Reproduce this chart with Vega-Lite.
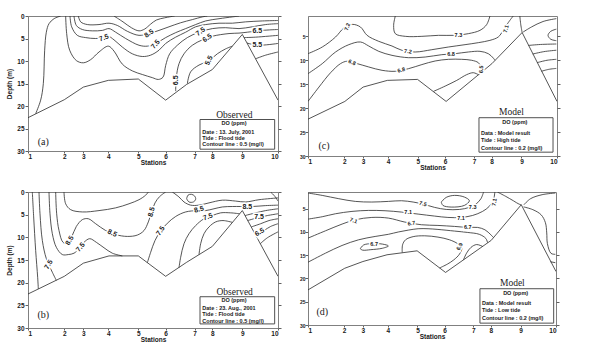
{
"$schema":"https://vega.github.io/schema/vega-lite/v6.json",
"background":"white",
"padding":{"left":6,"top":12,"right":0,"bottom":0},
"config":{
 "view":{"stroke":"#808080","strokeWidth":1},
 "axis":{"grid":false,"domainColor":"#808080","tickColor":"#606060","tickSize":3,"labelFont":"Liberation Sans","labelFontSize":6.5,"labelFontWeight":"bold","labelColor":"#1a1a1a","labelPadding":1,"titleFont":"Liberation Sans","titleFontSize":6.5,"titleFontWeight":"bold","titleColor":"#1a1a1a"},
 "text":{"font":"Liberation Sans"}
},
"datasets":{
"lines":[
{"p":"a","c":"a1","i":0,"x":23,"d":21.7},{"p":"a","c":"a1","i":1,"x":38,"d":18.7},{"p":"a","c":"a1","i":2,"x":46,"d":15.0},{"p":"a","c":"a1","i":3,"x":50,"d":7.6},{"p":"a","c":"a1","i":4,"x":55,"d":3.6},{"p":"a","c":"a1","i":5,"x":63,"d":1.7},{"p":"a","c":"a1","i":6,"x":78,"d":0.6},{"p":"a","c":"a1","i":7,"x":98,"d":0},
{"p":"a","c":"a2","i":0,"x":113,"d":0},{"p":"a","c":"a2","i":1,"x":116,"d":3.9},{"p":"a","c":"a2","i":2,"x":125,"d":7.6},{"p":"a","c":"a2","i":3,"x":145,"d":9.9},{"p":"a","c":"a2","i":4,"x":166,"d":10.4},{"p":"a","c":"a2","i":5,"x":188,"d":9.7},{"p":"a","c":"a2","i":6,"x":213,"d":8.0},{"p":"a","c":"a2","i":7,"x":241,"d":6.7},{"p":"a","c":"a2","i":8,"x":258,"d":7.8},{"p":"a","c":"a2","i":9,"x":283,"d":10.7},{"p":"a","c":"a2","i":10,"x":313,"d":12.2},{"p":"a","c":"a2","i":11,"x":343,"d":13.0},{"p":"a","c":"a2","i":12,"x":373,"d":13.7},{"p":"a","c":"a2","i":13,"x":391,"d":14.1},{"p":"a","c":"a2","i":14,"x":405,"d":13.6},{"p":"a","c":"a2","i":15,"x":413,"d":11.0},{"p":"a","c":"a2","i":16,"x":425,"d":8.4},{"p":"a","c":"a2","i":17,"x":448,"d":6.5},{"p":"a","c":"a2","i":18,"x":478,"d":4.8},{"p":"a","c":"a2","i":19,"x":513,"d":3.6},{"p":"a","c":"a2","i":20,"x":553,"d":2.8},{"p":"a","c":"a2","i":21,"x":593,"d":2.6},{"p":"a","c":"a2","i":22,"x":633,"d":2.8},{"p":"a","c":"a2","i":23,"x":673,"d":2.4},{"p":"a","c":"a2","i":24,"x":713,"d":1.9},{"p":"a","c":"a2","i":25,"x":750,"d":1.7},
{"p":"a","c":"a3","i":0,"x":126,"d":0},{"p":"a","c":"a3","i":1,"x":131,"d":2.4},{"p":"a","c":"a3","i":2,"x":148,"d":4.3},{"p":"a","c":"a3","i":3,"x":173,"d":4.8},{"p":"a","c":"a3","i":4,"x":203,"d":5.0},{"p":"a","c":"a3","i":5,"x":228,"d":4.8},{"p":"a","c":"a3","i":6,"x":241,"d":4.5},{"p":"a","c":"a3","i":7,"x":258,"d":5.3},{"p":"a","c":"a3","i":8,"x":283,"d":6.9},{"p":"a","c":"a3","i":9,"x":313,"d":8.4},{"p":"a","c":"a3","i":10,"x":343,"d":9.0},{"p":"a","c":"a3","i":11,"x":368,"d":8.7},{"p":"a","c":"a3","i":12,"x":393,"d":7.6},{"p":"a","c":"a3","i":13,"x":413,"d":6.1},{"p":"a","c":"a3","i":14,"x":443,"d":4.7},{"p":"a","c":"a3","i":15,"x":473,"d":3.6},{"p":"a","c":"a3","i":16,"x":503,"d":2.4},{"p":"a","c":"a3","i":17,"x":533,"d":1.9},{"p":"a","c":"a3","i":18,"x":573,"d":1.6},{"p":"a","c":"a3","i":19,"x":613,"d":1.6},{"p":"a","c":"a3","i":20,"x":653,"d":1.3},{"p":"a","c":"a3","i":21,"x":703,"d":1.1},{"p":"a","c":"a3","i":22,"x":750,"d":1.0},
{"p":"a","c":"a4","i":0,"x":138,"d":0},{"p":"a","c":"a4","i":1,"x":145,"d":2.1},{"p":"a","c":"a4","i":2,"x":163,"d":3.0},{"p":"a","c":"a4","i":3,"x":193,"d":3.3},{"p":"a","c":"a4","i":4,"x":223,"d":3.2},{"p":"a","c":"a4","i":5,"x":243,"d":2.8},{"p":"a","c":"a4","i":6,"x":263,"d":3.6},{"p":"a","c":"a4","i":7,"x":293,"d":5.0},{"p":"a","c":"a4","i":8,"x":333,"d":6.5},{"p":"a","c":"a4","i":9,"x":358,"d":6.7},{"p":"a","c":"a4","i":10,"x":383,"d":6.1},{"p":"a","c":"a4","i":11,"x":413,"d":4.8},{"p":"a","c":"a4","i":12,"x":443,"d":3.7},{"p":"a","c":"a4","i":13,"x":473,"d":2.8},{"p":"a","c":"a4","i":14,"x":503,"d":1.9},{"p":"a","c":"a4","i":15,"x":533,"d":1.1},{"p":"a","c":"a4","i":16,"x":573,"d":0.6},{"p":"a","c":"a4","i":17,"x":613,"d":0.2},{"p":"a","c":"a4","i":18,"x":633,"d":0},
{"p":"a","c":"a5","i":0,"x":151,"d":0},{"p":"a","c":"a5","i":1,"x":158,"d":1.3},{"p":"a","c":"a5","i":2,"x":178,"d":1.9},{"p":"a","c":"a5","i":3,"x":213,"d":1.9},{"p":"a","c":"a5","i":4,"x":243,"d":1.6},{"p":"a","c":"a5","i":5,"x":268,"d":2.1},{"p":"a","c":"a5","i":6,"x":298,"d":3.4},{"p":"a","c":"a5","i":7,"x":333,"d":4.3},{"p":"a","c":"a5","i":8,"x":363,"d":3.9},{"p":"a","c":"a5","i":9,"x":393,"d":3.2},{"p":"a","c":"a5","i":10,"x":423,"d":2.4},{"p":"a","c":"a5","i":11,"x":458,"d":1.5},{"p":"a","c":"a5","i":12,"x":493,"d":0.8},{"p":"a","c":"a5","i":13,"x":523,"d":0.2},{"p":"a","c":"a5","i":14,"x":538,"d":0},
{"p":"a","c":"a6","i":0,"x":258,"d":0},{"p":"a","c":"a6","i":1,"x":285,"d":1.3},{"p":"a","c":"a6","i":2,"x":310,"d":2.6},{"p":"a","c":"a6","i":3,"x":333,"d":3.3},{"p":"a","c":"a6","i":4,"x":350,"d":2.9},{"p":"a","c":"a6","i":5,"x":368,"d":1.8},{"p":"a","c":"a6","i":6,"x":385,"d":0.9},{"p":"a","c":"a6","i":7,"x":410,"d":0.4},{"p":"a","c":"a6","i":8,"x":440,"d":0},
{"p":"a","c":"a7","i":0,"x":443,"d":16.7},{"p":"a","c":"a7","i":1,"x":445,"d":13.6},{"p":"a","c":"a7","i":2,"x":453,"d":10.6},{"p":"a","c":"a7","i":3,"x":468,"d":8.4},{"p":"a","c":"a7","i":4,"x":493,"d":6.5},{"p":"a","c":"a7","i":5,"x":523,"d":5.3},{"p":"a","c":"a7","i":6,"x":553,"d":4.5},{"p":"a","c":"a7","i":7,"x":603,"d":3.9},{"p":"a","c":"a7","i":8,"x":633,"d":3.8},{"p":"a","c":"a7","i":9,"x":658,"d":3.6},{"p":"a","c":"a7","i":10,"x":703,"d":3.2},{"p":"a","c":"a7","i":11,"x":750,"d":3.0},
{"p":"a","c":"a8","i":0,"x":478,"d":15.0},{"p":"a","c":"a8","i":1,"x":488,"d":12.4},{"p":"a","c":"a8","i":2,"x":513,"d":10.9},{"p":"a","c":"a8","i":3,"x":543,"d":9.9},{"p":"a","c":"a8","i":4,"x":568,"d":8.4},{"p":"a","c":"a8","i":5,"x":593,"d":7.3},{"p":"a","c":"a8","i":6,"x":613,"d":6.7},
{"p":"a","c":"a9","i":0,"x":648,"d":4.8},{"p":"a","c":"a9","i":1,"x":683,"d":4.7},{"p":"a","c":"a9","i":2,"x":750,"d":4.3},
{"p":"a","c":"a10","i":0,"x":657,"d":6.0},{"p":"a","c":"a10","i":1,"x":688,"d":6.5},{"p":"a","c":"a10","i":2,"x":750,"d":6.1},
{"p":"a","c":"a11","i":0,"x":683,"d":9.5},{"p":"a","c":"a11","i":1,"x":713,"d":8.7},{"p":"a","c":"a11","i":2,"x":750,"d":8.0},

{"p":"b","c":"b1","i":0,"x":13,"d":0},{"p":"b","c":"b1","i":1,"x":17,"d":5.5},{"p":"b","c":"b1","i":2,"x":23,"d":12.9},{"p":"b","c":"b1","i":3,"x":29,"d":18.8},{"p":"b","c":"b1","i":4,"x":31,"d":21.4},
{"p":"b","c":"b2","i":0,"x":33,"d":0},{"p":"b","c":"b2","i":1,"x":36,"d":4.8},{"p":"b","c":"b2","i":2,"x":43,"d":10.7},{"p":"b","c":"b2","i":3,"x":55,"d":14.7},{"p":"b","c":"b2","i":4,"x":73,"d":17.7},{"p":"b","c":"b2","i":5,"x":85,"d":19.5},
{"p":"b","c":"b3","i":0,"x":63,"d":0},{"p":"b","c":"b3","i":1,"x":66,"d":4.8},{"p":"b","c":"b3","i":2,"x":73,"d":9.2},{"p":"b","c":"b3","i":3,"x":85,"d":12.2},{"p":"b","c":"b3","i":4,"x":103,"d":13.8},{"p":"b","c":"b3","i":5,"x":121,"d":13.8},{"p":"b","c":"b3","i":6,"x":138,"d":13.5},{"p":"b","c":"b3","i":7,"x":153,"d":12.5},{"p":"b","c":"b3","i":8,"x":168,"d":11.1},{"p":"b","c":"b3","i":9,"x":185,"d":10.3},{"p":"b","c":"b3","i":10,"x":205,"d":11.1},{"p":"b","c":"b3","i":11,"x":228,"d":12.3},{"p":"b","c":"b3","i":12,"x":253,"d":13.5},{"p":"b","c":"b3","i":13,"x":283,"d":14.1},
{"p":"b","c":"b4","i":0,"x":83,"d":0},{"p":"b","c":"b4","i":1,"x":86,"d":4.8},{"p":"b","c":"b4","i":2,"x":93,"d":8.5},{"p":"b","c":"b4","i":3,"x":105,"d":11.1},{"p":"b","c":"b4","i":4,"x":118,"d":11.4},{"p":"b","c":"b4","i":5,"x":131,"d":9.9},{"p":"b","c":"b4","i":6,"x":145,"d":7.6},{"p":"b","c":"b4","i":7,"x":163,"d":6.1},{"p":"b","c":"b4","i":8,"x":181,"d":5.9},{"p":"b","c":"b4","i":9,"x":203,"d":7.0},{"p":"b","c":"b4","i":10,"x":233,"d":8.5},{"p":"b","c":"b4","i":11,"x":263,"d":9.4},{"p":"b","c":"b4","i":12,"x":298,"d":9.8},{"p":"b","c":"b4","i":13,"x":328,"d":9.5},{"p":"b","c":"b4","i":14,"x":348,"d":8.5},{"p":"b","c":"b4","i":15,"x":361,"d":6.6},{"p":"b","c":"b4","i":16,"x":371,"d":4.4},{"p":"b","c":"b4","i":17,"x":381,"d":2.4},{"p":"b","c":"b4","i":18,"x":395,"d":1.0},{"p":"b","c":"b4","i":19,"x":413,"d":0},
{"p":"b","c":"b5","i":0,"x":108,"d":0},{"p":"b","c":"b5","i":1,"x":113,"d":2.6},{"p":"b","c":"b5","i":2,"x":128,"d":3.9},{"p":"b","c":"b5","i":3,"x":163,"d":4.4},{"p":"b","c":"b5","i":4,"x":213,"d":4.1},{"p":"b","c":"b5","i":5,"x":263,"d":3.5},{"p":"b","c":"b5","i":6,"x":303,"d":2.6},{"p":"b","c":"b5","i":7,"x":333,"d":1.7},{"p":"b","c":"b5","i":8,"x":353,"d":0.7},{"p":"b","c":"b5","i":9,"x":361,"d":0},
{"p":"b","c":"b6","i":0,"x":358,"d":15.6},{"p":"b","c":"b6","i":1,"x":368,"d":13.3},{"p":"b","c":"b6","i":2,"x":381,"d":10.7},{"p":"b","c":"b6","i":3,"x":398,"d":8.6},{"p":"b","c":"b6","i":4,"x":418,"d":6.9},{"p":"b","c":"b6","i":5,"x":443,"d":5.4},{"p":"b","c":"b6","i":6,"x":473,"d":4.4},{"p":"b","c":"b6","i":7,"x":508,"d":4.1},{"p":"b","c":"b6","i":8,"x":533,"d":4.1},{"p":"b","c":"b6","i":9,"x":558,"d":3.7},{"p":"b","c":"b6","i":10,"x":583,"d":3.3},{"p":"b","c":"b6","i":11,"x":613,"d":3.2},{"p":"b","c":"b6","i":12,"x":638,"d":3.2},{"p":"b","c":"b6","i":13,"x":673,"d":3.2},{"p":"b","c":"b6","i":14,"x":713,"d":3.0},{"p":"b","c":"b6","i":15,"x":750,"d":2.9},
{"p":"b","c":"b7","i":0,"x":453,"d":16.7},{"p":"b","c":"b7","i":1,"x":458,"d":14.4},{"p":"b","c":"b7","i":2,"x":468,"d":11.4},{"p":"b","c":"b7","i":3,"x":483,"d":9.2},{"p":"b","c":"b7","i":4,"x":503,"d":7.4},{"p":"b","c":"b7","i":5,"x":528,"d":5.9},{"p":"b","c":"b7","i":6,"x":553,"d":5.2},{"p":"b","c":"b7","i":7,"x":578,"d":4.6},{"p":"b","c":"b7","i":8,"x":608,"d":4.6},{"p":"b","c":"b7","i":9,"x":635,"d":4.8},
{"p":"b","c":"b8","i":0,"x":513,"d":13.8},{"p":"b","c":"b8","i":1,"x":518,"d":11.4},{"p":"b","c":"b8","i":2,"x":528,"d":9.2},{"p":"b","c":"b8","i":3,"x":543,"d":7.7},{"p":"b","c":"b8","i":4,"x":563,"d":6.6},{"p":"b","c":"b8","i":5,"x":585,"d":6.3},{"p":"b","c":"b8","i":6,"x":613,"d":6.7},
{"p":"b","c":"b9","i":0,"x":433,"d":0},{"p":"b","c":"b9","i":1,"x":453,"d":1.1},{"p":"b","c":"b9","i":2,"x":468,"d":2.2},{"p":"b","c":"b9","i":3,"x":488,"d":2.9},{"p":"b","c":"b9","i":4,"x":513,"d":2.9},{"p":"b","c":"b9","i":5,"x":543,"d":2.4},{"p":"b","c":"b9","i":6,"x":583,"d":1.8},{"p":"b","c":"b9","i":7,"x":623,"d":2.0},{"p":"b","c":"b9","i":8,"x":653,"d":2.2},{"p":"b","c":"b9","i":9,"x":693,"d":1.7},{"p":"b","c":"b9","i":10,"x":750,"d":1.3},
{"p":"b","c":"b10","i":0,"x":476,"d":1.5},{"p":"b","c":"b10","i":1,"x":480,"d":0.7},{"p":"b","c":"b10","i":2,"x":490,"d":0.5},{"p":"b","c":"b10","i":3,"x":500,"d":0.9},{"p":"b","c":"b10","i":4,"x":503,"d":1.6},{"p":"b","c":"b10","i":5,"x":496,"d":2.2},{"p":"b","c":"b10","i":6,"x":483,"d":2.2},{"p":"b","c":"b10","i":7,"x":476,"d":1.5},
{"p":"b","c":"b11","i":0,"x":651,"d":5.2},{"p":"b","c":"b11","i":1,"x":683,"d":4.6},{"p":"b","c":"b11","i":2,"x":713,"d":4.1},{"p":"b","c":"b11","i":3,"x":750,"d":3.7},
{"p":"b","c":"b12","i":0,"x":659,"d":6.3},{"p":"b","c":"b12","i":1,"x":688,"d":5.7},{"p":"b","c":"b12","i":2,"x":718,"d":5.2},{"p":"b","c":"b12","i":3,"x":750,"d":4.8},
{"p":"b","c":"b13","i":0,"x":670,"d":7.7},{"p":"b","c":"b13","i":1,"x":698,"d":7.0},{"p":"b","c":"b13","i":2,"x":723,"d":6.3},{"p":"b","c":"b13","i":3,"x":750,"d":5.9},
{"p":"b","c":"b14","i":0,"x":683,"d":9.6},{"p":"b","c":"b14","i":1,"x":708,"d":8.5},{"p":"b","c":"b14","i":2,"x":728,"d":7.6},{"p":"b","c":"b14","i":3,"x":750,"d":7.0},
{"p":"b","c":"b15","i":0,"x":697,"d":11.4},{"p":"b","c":"b15","i":1,"x":718,"d":10.1},{"p":"b","c":"b15","i":2,"x":750,"d":8.8},
{"p":"b","c":"b16","i":0,"x":728,"d":0},{"p":"b","c":"b16","i":1,"x":741,"d":1.0},{"p":"b","c":"b16","i":2,"x":750,"d":2.0},

{"p":"c","c":"c1","i":0,"x":0,"d":8.62},{"p":"c","c":"c1","i":1,"x":43,"d":7.23},{"p":"c","c":"c1","i":2,"x":83,"d":5.14},{"p":"c","c":"c1","i":3,"x":108,"d":3.26},{"p":"c","c":"c1","i":4,"x":133,"d":2.5},{"p":"c","c":"c1","i":5,"x":158,"d":3.05},{"p":"c","c":"c1","i":6,"x":178,"d":4.79},{"p":"c","c":"c1","i":7,"x":213,"d":6.04},{"p":"c","c":"c1","i":8,"x":253,"d":7.02},{"p":"c","c":"c1","i":9,"x":283,"d":7.92},{"p":"c","c":"c1","i":10,"x":323,"d":8.27},{"p":"c","c":"c1","i":11,"x":373,"d":7.79},{"p":"c","c":"c1","i":12,"x":423,"d":7.23},{"p":"c","c":"c1","i":13,"x":473,"d":6.74},{"p":"c","c":"c1","i":14,"x":513,"d":6.32},{"p":"c","c":"c1","i":15,"x":548,"d":5.84},{"p":"c","c":"c1","i":16,"x":573,"d":5.14},{"p":"c","c":"c1","i":17,"x":588,"d":3.75},{"p":"c","c":"c1","i":18,"x":603,"d":2.15},{"p":"c","c":"c1","i":19,"x":618,"d":0.75},
{"p":"c","c":"c2","i":0,"x":0,"d":12.8},{"p":"c","c":"c2","i":1,"x":43,"d":10.7},{"p":"c","c":"c2","i":2,"x":83,"d":8.27},{"p":"c","c":"c2","i":3,"x":123,"d":6.74},{"p":"c","c":"c2","i":4,"x":158,"d":6.18},{"p":"c","c":"c2","i":5,"x":183,"d":7.02},{"p":"c","c":"c2","i":6,"x":213,"d":8.13},{"p":"c","c":"c2","i":7,"x":253,"d":8.97},{"p":"c","c":"c2","i":8,"x":303,"d":9.46},{"p":"c","c":"c2","i":9,"x":353,"d":9.32},{"p":"c","c":"c2","i":10,"x":403,"d":8.83},{"p":"c","c":"c2","i":11,"x":443,"d":8.62},{"p":"c","c":"c2","i":12,"x":483,"d":8.27},{"p":"c","c":"c2","i":13,"x":518,"d":8.13},{"p":"c","c":"c2","i":14,"x":543,"d":8.62},{"p":"c","c":"c2","i":15,"x":558,"d":9.53},{"p":"c","c":"c2","i":16,"x":563,"d":10.0},
{"p":"c","c":"c3","i":0,"x":0,"d":18.6},{"p":"c","c":"c3","i":1,"x":33,"d":15.6},{"p":"c","c":"c3","i":2,"x":68,"d":12.6},{"p":"c","c":"c3","i":3,"x":98,"d":10.7},{"p":"c","c":"c3","i":4,"x":118,"d":10.2},{"p":"c","c":"c3","i":5,"x":148,"d":10.7},{"p":"c","c":"c3","i":6,"x":183,"d":11.4},{"p":"c","c":"c3","i":7,"x":223,"d":12.1},{"p":"c","c":"c3","i":8,"x":263,"d":12.3},{"p":"c","c":"c3","i":9,"x":303,"d":11.75},{"p":"c","c":"c3","i":10,"x":343,"d":10.9},{"p":"c","c":"c3","i":11,"x":383,"d":10.15},{"p":"c","c":"c3","i":12,"x":423,"d":9.8},{"p":"c","c":"c3","i":13,"x":463,"d":9.8},{"p":"c","c":"c3","i":14,"x":493,"d":10.0},{"p":"c","c":"c3","i":15,"x":513,"d":10.5},{"p":"c","c":"c3","i":16,"x":521,"d":11.4},{"p":"c","c":"c3","i":17,"x":521,"d":12.6},
{"p":"c","c":"c4","i":0,"x":263,"d":0.75},{"p":"c","c":"c4","i":1,"x":258,"d":2.7},{"p":"c","c":"c4","i":2,"x":263,"d":4.44},{"p":"c","c":"c4","i":3,"x":293,"d":5.0},{"p":"c","c":"c4","i":4,"x":343,"d":5.0},{"p":"c","c":"c4","i":5,"x":393,"d":4.79},{"p":"c","c":"c4","i":6,"x":443,"d":4.79},{"p":"c","c":"c4","i":7,"x":483,"d":4.44},{"p":"c","c":"c4","i":8,"x":518,"d":3.75},{"p":"c","c":"c4","i":9,"x":538,"d":2.56},{"p":"c","c":"c4","i":10,"x":548,"d":0.75},
{"p":"c","c":"c5","i":0,"x":378,"d":16.5},{"p":"c","c":"c5","i":1,"x":413,"d":15.4},{"p":"c","c":"c5","i":2,"x":448,"d":14.2},{"p":"c","c":"c5","i":3,"x":478,"d":13.0},{"p":"c","c":"c5","i":4,"x":498,"d":12.6},{"p":"c","c":"c5","i":5,"x":513,"d":13.0},
{"p":"c","c":"c6","i":0,"x":638,"d":0.75},{"p":"c","c":"c6","i":1,"x":641,"d":2.6},{"p":"c","c":"c6","i":2,"x":645,"d":4.2},
{"p":"c","c":"c7","i":0,"x":648,"d":4.1},{"p":"c","c":"c7","i":1,"x":673,"d":3.05},{"p":"c","c":"c7","i":2,"x":708,"d":1.9},{"p":"c","c":"c7","i":3,"x":748,"d":1.3},
{"p":"c","c":"c9","i":0,"x":748,"d":3.5},{"p":"c","c":"c9","i":1,"x":731,"d":3.96},{"p":"c","c":"c9","i":2,"x":723,"d":4.79},{"p":"c","c":"c9","i":3,"x":731,"d":5.6},{"p":"c","c":"c9","i":4,"x":748,"d":5.9},
{"p":"c","c":"c10","i":0,"x":664,"d":6.9},{"p":"c","c":"c10","i":1,"x":700,"d":6.7},{"p":"c","c":"c10","i":2,"x":748,"d":6.6},
{"p":"c","c":"c11","i":0,"x":677,"d":8.7},{"p":"c","c":"c11","i":1,"x":710,"d":8.2},{"p":"c","c":"c11","i":2,"x":748,"d":7.9},
{"p":"c","c":"c12","i":0,"x":690,"d":10.5},{"p":"c","c":"c12","i":1,"x":720,"d":10.0},{"p":"c","c":"c12","i":2,"x":748,"d":9.8},
{"p":"c","c":"c13","i":0,"x":703,"d":12.3},{"p":"c","c":"c13","i":1,"x":725,"d":11.9},{"p":"c","c":"c13","i":2,"x":748,"d":11.7},

{"p":"d","c":"d1","i":0,"x":0,"d":1.62},{"p":"d","c":"d1","i":1,"x":43,"d":2.13},{"p":"d","c":"d1","i":2,"x":93,"d":2.84},{"p":"d","c":"d1","i":3,"x":143,"d":3.42},{"p":"d","c":"d1","i":4,"x":193,"d":3.56},{"p":"d","c":"d1","i":5,"x":243,"d":3.42},{"p":"d","c":"d1","i":6,"x":283,"d":3.28},{"p":"d","c":"d1","i":7,"x":318,"d":3.56},{"p":"d","c":"d1","i":8,"x":348,"d":4.0},{"p":"d","c":"d1","i":9,"x":383,"d":4.71},{"p":"d","c":"d1","i":10,"x":418,"d":5.15},{"p":"d","c":"d1","i":11,"x":458,"d":5.15},{"p":"d","c":"d1","i":12,"x":488,"d":4.71},{"p":"d","c":"d1","i":13,"x":508,"d":4.0},{"p":"d","c":"d1","i":14,"x":523,"d":2.84},{"p":"d","c":"d1","i":15,"x":531,"d":1.41},
{"p":"d","c":"d2","i":0,"x":403,"d":3.56},{"p":"d","c":"d2","i":1,"x":418,"d":2.56},{"p":"d","c":"d2","i":2,"x":443,"d":2.13},{"p":"d","c":"d2","i":3,"x":473,"d":2.49},{"p":"d","c":"d2","i":4,"x":488,"d":3.28},{"p":"d","c":"d2","i":5,"x":473,"d":4.28},{"p":"d","c":"d2","i":6,"x":433,"d":4.64},{"p":"d","c":"d2","i":7,"x":408,"d":4.28},{"p":"d","c":"d2","i":8,"x":403,"d":3.56},
{"p":"d","c":"d3","i":0,"x":0,"d":7.23},{"p":"d","c":"d3","i":1,"x":43,"d":6.72},{"p":"d","c":"d3","i":2,"x":83,"d":6.08},{"p":"d","c":"d3","i":3,"x":133,"d":5.57},{"p":"d","c":"d3","i":4,"x":183,"d":5.36},{"p":"d","c":"d3","i":5,"x":233,"d":5.43},{"p":"d","c":"d3","i":6,"x":283,"d":5.72},{"p":"d","c":"d3","i":7,"x":333,"d":6.15},{"p":"d","c":"d3","i":8,"x":383,"d":6.58},{"p":"d","c":"d3","i":9,"x":423,"d":6.87},{"p":"d","c":"d3","i":10,"x":463,"d":6.87},{"p":"d","c":"d3","i":11,"x":498,"d":6.44},{"p":"d","c":"d3","i":12,"x":528,"d":5.57},{"p":"d","c":"d3","i":13,"x":548,"d":4.5},{"p":"d","c":"d3","i":14,"x":561,"d":3.06},{"p":"d","c":"d3","i":15,"x":565,"d":1.41},
{"p":"d","c":"d4","i":0,"x":0,"d":11.32},{"p":"d","c":"d4","i":1,"x":53,"d":9.74},{"p":"d","c":"d4","i":2,"x":103,"d":8.3},{"p":"d","c":"d4","i":3,"x":143,"d":7.37},{"p":"d","c":"d4","i":4,"x":193,"d":6.87},{"p":"d","c":"d4","i":5,"x":243,"d":7.01},{"p":"d","c":"d4","i":6,"x":293,"d":7.87},{"p":"d","c":"d4","i":7,"x":343,"d":8.44},{"p":"d","c":"d4","i":8,"x":393,"d":8.59},{"p":"d","c":"d4","i":9,"x":443,"d":8.8},{"p":"d","c":"d4","i":10,"x":483,"d":9.02},{"p":"d","c":"d4","i":11,"x":513,"d":9.02},{"p":"d","c":"d4","i":12,"x":535,"d":9.52},{"p":"d","c":"d4","i":13,"x":553,"d":10.6},{"p":"d","c":"d4","i":14,"x":561,"d":11.2},
{"p":"d","c":"d5","i":0,"x":0,"d":16.5},{"p":"d","c":"d5","i":1,"x":53,"d":14.55},{"p":"d","c":"d5","i":2,"x":103,"d":12.9},{"p":"d","c":"d5","i":3,"x":153,"d":11.68},{"p":"d","c":"d5","i":4,"x":203,"d":10.96},{"p":"d","c":"d5","i":5,"x":243,"d":10.5},{"p":"d","c":"d5","i":6,"x":273,"d":10.0},{"p":"d","c":"d5","i":7,"x":303,"d":9.6},{"p":"d","c":"d5","i":8,"x":333,"d":9.3},{"p":"d","c":"d5","i":9,"x":363,"d":9.3},{"p":"d","c":"d5","i":10,"x":393,"d":9.45},{"p":"d","c":"d5","i":11,"x":443,"d":9.8},{"p":"d","c":"d5","i":12,"x":483,"d":10.1},{"p":"d","c":"d5","i":13,"x":518,"d":10.5},{"p":"d","c":"d5","i":14,"x":538,"d":11.4},{"p":"d","c":"d5","i":15,"x":543,"d":12.3},
{"p":"d","c":"d6","i":0,"x":285,"d":14.4},{"p":"d","c":"d6","i":1,"x":286,"d":12.76},{"p":"d","c":"d6","i":2,"x":295,"d":11.68},{"p":"d","c":"d6","i":3,"x":318,"d":11.0},{"p":"d","c":"d6","i":4,"x":353,"d":10.82},{"p":"d","c":"d6","i":5,"x":393,"d":11.1},{"p":"d","c":"d6","i":6,"x":428,"d":11.68},{"p":"d","c":"d6","i":7,"x":453,"d":12.54},{"p":"d","c":"d6","i":8,"x":465,"d":13.48},{"p":"d","c":"d6","i":9,"x":458,"d":14.77},{"p":"d","c":"d6","i":10,"x":441,"d":15.99},{"p":"d","c":"d6","i":11,"x":421,"d":16.93},{"p":"d","c":"d6","i":12,"x":398,"d":17.73},
{"p":"d","c":"d7","i":0,"x":470,"d":16.0},{"p":"d","c":"d7","i":1,"x":480,"d":14.5},{"p":"d","c":"d7","i":2,"x":493,"d":13.3},{"p":"d","c":"d7","i":3,"x":510,"d":12.7},{"p":"d","c":"d7","i":4,"x":528,"d":13.1},
{"p":"d","c":"d8","i":0,"x":158,"d":13.6},{"p":"d","c":"d8","i":1,"x":168,"d":12.8},{"p":"d","c":"d8","i":2,"x":193,"d":12.5},{"p":"d","c":"d8","i":3,"x":225,"d":12.6},{"p":"d","c":"d8","i":4,"x":243,"d":13.0},{"p":"d","c":"d8","i":5,"x":225,"d":13.5},{"p":"d","c":"d8","i":6,"x":190,"d":13.8},{"p":"d","c":"d8","i":7,"x":165,"d":13.9},{"p":"d","c":"d8","i":8,"x":158,"d":13.6},
{"p":"d","c":"d9","i":0,"x":573,"d":1.41},{"p":"d","c":"d9","i":1,"x":598,"d":2.34},{"p":"d","c":"d9","i":2,"x":621,"d":3.28},{"p":"d","c":"d9","i":3,"x":638,"d":4.0},{"p":"d","c":"d9","i":4,"x":645,"d":4.14},
{"p":"d","c":"d10","i":0,"x":653,"d":4.14},{"p":"d","c":"d10","i":1,"x":673,"d":2.84},{"p":"d","c":"d10","i":2,"x":708,"d":1.98},{"p":"d","c":"d10","i":3,"x":748,"d":1.62},
{"p":"d","c":"d11","i":0,"x":652,"d":4.6},{"p":"d","c":"d11","i":1,"x":680,"d":5.2},{"p":"d","c":"d11","i":2,"x":705,"d":6.3},{"p":"d","c":"d11","i":3,"x":718,"d":8.0},{"p":"d","c":"d11","i":4,"x":722,"d":10.2},{"p":"d","c":"d11","i":5,"x":724,"d":12.5},{"p":"d","c":"d11","i":6,"x":735,"d":14.6},{"p":"d","c":"d11","i":7,"x":748,"d":14.8},
{"p":"d","c":"d12","i":0,"x":733,"d":16.4},{"p":"d","c":"d12","i":1,"x":748,"d":16.6}
],
"bound":[
{"p":"a","i":0,"x":0,"d":22.6},{"p":"a","i":1,"x":109,"d":18.6},{"p":"a","i":2,"x":166,"d":15.8},{"p":"a","i":3,"x":241,"d":14.3},{"p":"a","i":4,"x":331,"d":14.0},{"p":"a","i":5,"x":413,"d":18.7},{"p":"a","i":6,"x":476,"d":15.2},{"p":"a","i":7,"x":553,"d":11.9},{"p":"a","i":8,"x":643,"d":4.1},{"p":"a","i":9,"x":750,"d":18.7},
{"p":"b","i":0,"x":0,"d":22.5},{"p":"b","i":1,"x":109,"d":18.6},{"p":"b","i":2,"x":166,"d":15.7},{"p":"b","i":3,"x":243,"d":14.1},{"p":"b","i":4,"x":331,"d":14.1},{"p":"b","i":5,"x":413,"d":18.6},{"p":"b","i":6,"x":476,"d":15.5},{"p":"b","i":7,"x":553,"d":12.0},{"p":"b","i":8,"x":643,"d":4.1},{"p":"b","i":9,"x":750,"d":18.6},
{"p":"c","i":0,"x":0,"d":22.3},{"p":"c","i":1,"x":111,"d":18.6},{"p":"c","i":2,"x":166,"d":15.6},{"p":"c","i":3,"x":239,"d":14.2},{"p":"c","i":4,"x":330,"d":14.0},{"p":"c","i":5,"x":416,"d":18.6},{"p":"c","i":6,"x":554,"d":10.7},{"p":"c","i":7,"x":645,"d":4.2},{"p":"c","i":8,"x":750,"d":18.6},
{"p":"d","i":0,"x":0,"d":22.45},{"p":"d","i":1,"x":111,"d":17.8},{"p":"d","i":2,"x":166,"d":16.35},{"p":"d","i":3,"x":239,"d":14.9},{"p":"d","i":4,"x":330,"d":14.05},{"p":"d","i":5,"x":416,"d":18.7},{"p":"d","i":6,"x":554,"d":11.8},{"p":"d","i":7,"x":645,"d":4.14},{"p":"d","i":8,"x":750,"d":18.5}
],
"labs":[
{"p":"a","t":"7.5","x":228,"d":4.9,"a":-20},{"p":"a","t":"8.5","x":363,"d":3.9,"a":-35},{"p":"a","t":"7.5","x":383,"d":6.3,"a":-50},{"p":"a","t":"7.5","x":518,"d":3.5,"a":-35},{"p":"a","t":"6.5","x":538,"d":4.9,"a":-35},{"p":"a","t":"6.5","x":443,"d":14.3,"a":-90},{"p":"a","t":"5.5","x":543,"d":9.9,"a":-65},{"p":"a","t":"6.5","x":688,"d":3.3,"a":0},{"p":"a","t":"5.5","x":688,"d":6.5,"a":0},
{"p":"b","t":"7.5","x":62,"d":16.0,"a":-60},{"p":"b","t":"8.5","x":125,"d":10.7,"a":-60},{"p":"b","t":"7.5","x":158,"d":12.2,"a":-50},{"p":"b","t":"8.5","x":253,"d":9.1,"a":25},{"p":"b","t":"8.5","x":371,"d":4.4,"a":-75},{"p":"b","t":"7.5","x":398,"d":8.6,"a":-55},{"p":"b","t":"8.5","x":513,"d":3.9,"a":-15},{"p":"b","t":"7.5","x":540,"d":5.5,"a":-20},{"p":"b","t":"8.5","x":658,"d":3.2,"a":0},{"p":"b","t":"7.5","x":693,"d":5.6,"a":0},{"p":"b","t":"6.5","x":695,"d":8.9,"a":-30},
{"p":"c","t":"7.2","x":118,"d":3.0,"a":-70},{"p":"c","t":"7.2","x":301,"d":8.1,"a":8},{"p":"c","t":"7.3","x":453,"d":4.8,"a":0},{"p":"c","t":"6.8","x":431,"d":8.6,"a":0},{"p":"c","t":"6.8","x":133,"d":10.4,"a":25},{"p":"c","t":"6.8","x":281,"d":12.0,"a":-15},{"p":"c","t":"6.5","x":521,"d":11.9,"a":-85},{"p":"c","t":"7.1","x":596,"d":3.4,"a":-75},
{"p":"d","t":"7.5","x":348,"d":3.9,"a":15},{"p":"d","t":"7.3","x":498,"d":4.6,"a":0},{"p":"d","t":"7.1","x":563,"d":3.6,"a":-80},{"p":"d","t":"7.1","x":138,"d":7.5,"a":20},{"p":"d","t":"7.1","x":303,"d":5.8,"a":0},{"p":"d","t":"7.1","x":463,"d":6.9,"a":0},{"p":"d","t":"6.7","x":313,"d":8.1,"a":-10},{"p":"d","t":"6.7","x":483,"d":9.0,"a":0},{"p":"d","t":"6.7","x":200,"d":12.5,"a":0},{"p":"d","t":"6.9","x":458,"d":13.1,"a":-60}
],
"boxes":[
{"p":"a","x":516,"x2":740,"d":23.0,"d2":29.6},{"p":"b","x":516,"x2":740,"d":23.1,"d2":29.1},{"p":"c","x":515,"x2":738,"d":22.0,"d2":29.2},{"p":"d","x":520,"x2":743,"d":22.2,"d2":29.6}
],
"notes":[
{"p":"a","k":"pl","t":"(a)","x":46,"d":27.9},{"p":"a","k":"ttl","t":"Observed","x":619,"d":22.1},{"p":"a","k":"ctr","t":"DO (ppm)","x":618,"d":23.8},{"p":"a","k":"lft","t":"Date : 13. July, 2001","x":523,"d":25.8},{"p":"a","k":"lft","t":"Tide : Flood tide","x":523,"d":27.1},{"p":"a","k":"lft","t":"Contour line : 0.5 (mg/l)","x":523,"d":28.5},
{"p":"b","k":"pl","t":"(b)","x":46,"d":27.1},{"p":"b","k":"ttl","t":"Observed","x":620,"d":22.1},{"p":"b","k":"ctr","t":"DO (ppm)","x":618,"d":23.8},{"p":"b","k":"lft","t":"Date : 23. Aug., 2001","x":523,"d":25.6},{"p":"b","k":"lft","t":"Tide : Flood tide","x":523,"d":26.9},{"p":"b","k":"lft","t":"Contour line : 0.5 (mg/l)","x":523,"d":28.4},
{"p":"c","k":"pl","t":"(c)","x":48,"d":27.9},{"p":"c","k":"ttl","t":"Model","x":613,"d":20.8},{"p":"c","k":"ctr","t":"DO (ppm)","x":623,"d":23.0},{"p":"c","k":"lft","t":"Data : Model result","x":521,"d":25.1},{"p":"c","k":"lft","t":"Tide : High tide","x":521,"d":26.6},{"p":"c","k":"lft","t":"Contour line : 0.2 (mg/l)","x":521,"d":28.3},
{"p":"d","k":"pl","t":"(d)","x":43,"d":27.3},{"p":"d","k":"ttl","t":"Model","x":618,"d":21.0},{"p":"d","k":"ctr","t":"DO (ppm)","x":628,"d":23.2},{"p":"d","k":"lft","t":"Data : Model result","x":526,"d":25.2},{"p":"d","k":"lft","t":"Tide : Low tide","x":526,"d":26.8},{"p":"d","k":"lft","t":"Contour line : 0.2 (mg/l)","x":526,"d":28.6}
]
},
"bounds":"flush",
"columns":2,
"spacing":{"row":36,"column":30},
"concat":[
{"width":250,"height":135,"resolve":{"axis":{"y":"independent"}},"layer":[
 {"encoding":{
   "x":{"field":"x","type":"quantitative","scale":{"domain":[0,750],"nice":false,"zero":false},"axis":{"values":[0,109,166,241,331,413,500,553,643,750],"labelExpr":"''+(indexof([0,109,166,241,331,413,500,553,643,750], datum.value)+1)","title":"Stations","titlePadding":0,"labelPadding":0,"tickSize":2}},
   "y":{"field":"d","type":"quantitative","scale":{"domain":[0,30],"reverse":true,"nice":false,"zero":false},"axis":{"values":[0,5,10,15,20,25,30],"title":"Depth (m)","titlePadding":4}}},
  "layer":[
   {"data":{"name":"lines"},"transform":[{"filter":"datum.p=='a'"}],"mark":{"type":"line","interpolate":"catmull-rom","stroke":"#2a2a2a","strokeWidth":0.8,"clip":true},"encoding":{"detail":{"field":"c"},"order":{"field":"i"}}},
   {"data":{"name":"bound"},"transform":[{"filter":"datum.p=='a'"}],"mark":{"type":"line","stroke":"#2a2a2a","strokeWidth":0.8,"clip":true},"encoding":{"order":{"field":"i"}}},
   {"data":{"name":"labs"},"transform":[{"filter":"datum.p=='a'"}],"mark":{"type":"text","fontSize":7,"fontWeight":"bold","fill":"white","stroke":"white","strokeWidth":3},"encoding":{"text":{"field":"t"},"angle":{"field":"a","type":"quantitative","scale":null}}},
   {"data":{"name":"labs"},"transform":[{"filter":"datum.p=='a'"}],"mark":{"type":"text","fontSize":7,"fontWeight":"bold","fill":"#1a1a1a"},"encoding":{"text":{"field":"t"},"angle":{"field":"a","type":"quantitative","scale":null}}},
   {"data":{"name":"boxes"},"transform":[{"filter":"datum.p=='a'"}],"mark":{"type":"rect","fill":"white","stroke":"#505050","strokeWidth":1},"encoding":{"x2":{"field":"x2"},"y2":{"field":"d2"}}},
   {"data":{"name":"notes"},"transform":[{"filter":"datum.p=='a' && datum.k=='pl'"}],"mark":{"type":"text","font":"Liberation Serif","fontSize":10,"fill":"#1a1a1a"},"encoding":{"text":{"field":"t"}}},
   {"data":{"name":"notes"},"transform":[{"filter":"datum.p=='a' && datum.k=='ttl'"}],"mark":{"type":"text","font":"Liberation Serif","fontSize":9.5,"fill":"#1a1a1a"},"encoding":{"text":{"field":"t"}}},
   {"data":{"name":"notes"},"transform":[{"filter":"datum.p=='a' && datum.k=='ctr'"}],"mark":{"type":"text","fontSize":5.5,"fontWeight":"bold","fill":"#1a1a1a"},"encoding":{"text":{"field":"t"}}},
   {"data":{"name":"notes"},"transform":[{"filter":"datum.p=='a' && datum.k=='lft'"}],"mark":{"type":"text","fontSize":5.5,"fontWeight":"bold","align":"left","fill":"#1a1a1a"},"encoding":{"text":{"field":"t"}}}
  ]},
 {"data":{"name":"bound"},"transform":[{"filter":"datum.p=='a'"}],"mark":{"type":"point","opacity":0},"encoding":{
   "x":{"field":"x","type":"quantitative","scale":{"domain":[0,750],"nice":false,"zero":false},"axis":{"values":[0,109,166,241,331,413,500,553,643,750],"labelExpr":"''+(indexof([0,109,166,241,331,413,500,553,643,750], datum.value)+1)","title":"Stations","titlePadding":0,"labelPadding":0,"tickSize":2}},
   "y":{"field":"d","type":"quantitative","scale":{"domain":[0,30],"reverse":true,"nice":false,"zero":false},"axis":{"orient":"right","values":[0,5,10,15,20,25,30],"labels":false,"title":null,"domain":false,"tickSize":3}}}}
]},
{"width":249,"height":140,"resolve":{"axis":{"y":"independent"}},"layer":[
 {"encoding":{
   "x":{"field":"x","type":"quantitative","scale":{"domain":[0,750],"nice":false,"zero":false},"axis":{"values":[0,109,166,241,331,413,500,553,643,750],"labelExpr":"''+(indexof([0,109,166,241,331,413,500,553,643,750], datum.value)+1)","title":"Stations","titlePadding":0,"labelPadding":0,"tickSize":2}},
   "y":{"field":"d","type":"quantitative","scale":{"domain":[0.75,30],"reverse":true,"nice":false,"zero":false},"axis":{"values":[5,10,15,20,25,30],"title":null,"labelFontSize":5,"labelPadding":0}}},
  "layer":[
   {"data":{"name":"lines"},"transform":[{"filter":"datum.p=='c'"}],"mark":{"type":"line","interpolate":"catmull-rom","stroke":"#2a2a2a","strokeWidth":0.8,"clip":true},"encoding":{"detail":{"field":"c"},"order":{"field":"i"}}},
   {"data":{"name":"bound"},"transform":[{"filter":"datum.p=='c'"}],"mark":{"type":"line","stroke":"#2a2a2a","strokeWidth":0.8,"clip":true},"encoding":{"order":{"field":"i"}}},
   {"data":{"name":"labs"},"transform":[{"filter":"datum.p=='c'"}],"mark":{"type":"text","fontSize":5.5,"fontWeight":"bold","fill":"white","stroke":"white","strokeWidth":3},"encoding":{"text":{"field":"t"},"angle":{"field":"a","type":"quantitative","scale":null}}},
   {"data":{"name":"labs"},"transform":[{"filter":"datum.p=='c'"}],"mark":{"type":"text","fontSize":5.5,"fontWeight":"bold","fill":"#1a1a1a"},"encoding":{"text":{"field":"t"},"angle":{"field":"a","type":"quantitative","scale":null}}},
   {"data":{"name":"boxes"},"transform":[{"filter":"datum.p=='c'"}],"mark":{"type":"rect","fill":"white","stroke":"#505050","strokeWidth":1},"encoding":{"x2":{"field":"x2"},"y2":{"field":"d2"}}},
   {"data":{"name":"notes"},"transform":[{"filter":"datum.p=='c' && datum.k=='pl'"}],"mark":{"type":"text","font":"Liberation Serif","fontSize":10,"fill":"#1a1a1a"},"encoding":{"text":{"field":"t"}}},
   {"data":{"name":"notes"},"transform":[{"filter":"datum.p=='c' && datum.k=='ttl'"}],"mark":{"type":"text","font":"Liberation Serif","fontSize":9.5,"fill":"#1a1a1a"},"encoding":{"text":{"field":"t"}}},
   {"data":{"name":"notes"},"transform":[{"filter":"datum.p=='c' && datum.k=='ctr'"}],"mark":{"type":"text","fontSize":5.5,"fontWeight":"bold","fill":"#1a1a1a"},"encoding":{"text":{"field":"t"}}},
   {"data":{"name":"notes"},"transform":[{"filter":"datum.p=='c' && datum.k=='lft'"}],"mark":{"type":"text","fontSize":5.5,"fontWeight":"bold","align":"left","fill":"#1a1a1a"},"encoding":{"text":{"field":"t"}}}
  ]},
 {"data":{"name":"bound"},"transform":[{"filter":"datum.p=='c'"}],"mark":{"type":"point","opacity":0},"encoding":{
   "x":{"field":"x","type":"quantitative","scale":{"domain":[0,750],"nice":false,"zero":false},"axis":{"values":[0,109,166,241,331,413,500,553,643,750],"labelExpr":"''+(indexof([0,109,166,241,331,413,500,553,643,750], datum.value)+1)","title":"Stations","titlePadding":0,"labelPadding":0,"tickSize":2}},
   "y":{"field":"d","type":"quantitative","scale":{"domain":[0.75,30],"reverse":true,"nice":false,"zero":false},"axis":{"orient":"right","values":[5,10,15,20,25,30],"labels":false,"title":null,"domain":false,"tickSize":3}}}}
]},
{"width":250,"height":136,"resolve":{"axis":{"y":"independent"}},"layer":[
 {"encoding":{
   "x":{"field":"x","type":"quantitative","scale":{"domain":[0,750],"nice":false,"zero":false},"axis":{"values":[0,109,166,241,331,413,500,553,643,750],"labelExpr":"''+(indexof([0,109,166,241,331,413,500,553,643,750], datum.value)+1)","title":"Stations","titlePadding":0,"labelPadding":0,"tickSize":2}},
   "y":{"field":"d","type":"quantitative","scale":{"domain":[0,30],"reverse":true,"nice":false,"zero":false},"axis":{"values":[0,5,10,15,20,25,30],"title":"Depth (m)","titlePadding":4}}},
  "layer":[
   {"data":{"name":"lines"},"transform":[{"filter":"datum.p=='b'"}],"mark":{"type":"line","interpolate":"catmull-rom","stroke":"#2a2a2a","strokeWidth":0.8,"clip":true},"encoding":{"detail":{"field":"c"},"order":{"field":"i"}}},
   {"data":{"name":"bound"},"transform":[{"filter":"datum.p=='b'"}],"mark":{"type":"line","stroke":"#2a2a2a","strokeWidth":0.8,"clip":true},"encoding":{"order":{"field":"i"}}},
   {"data":{"name":"labs"},"transform":[{"filter":"datum.p=='b'"}],"mark":{"type":"text","fontSize":7,"fontWeight":"bold","fill":"white","stroke":"white","strokeWidth":3},"encoding":{"text":{"field":"t"},"angle":{"field":"a","type":"quantitative","scale":null}}},
   {"data":{"name":"labs"},"transform":[{"filter":"datum.p=='b'"}],"mark":{"type":"text","fontSize":7,"fontWeight":"bold","fill":"#1a1a1a"},"encoding":{"text":{"field":"t"},"angle":{"field":"a","type":"quantitative","scale":null}}},
   {"data":{"name":"boxes"},"transform":[{"filter":"datum.p=='b'"}],"mark":{"type":"rect","fill":"white","stroke":"#505050","strokeWidth":1},"encoding":{"x2":{"field":"x2"},"y2":{"field":"d2"}}},
   {"data":{"name":"notes"},"transform":[{"filter":"datum.p=='b' && datum.k=='pl'"}],"mark":{"type":"text","font":"Liberation Serif","fontSize":10,"fill":"#1a1a1a"},"encoding":{"text":{"field":"t"}}},
   {"data":{"name":"notes"},"transform":[{"filter":"datum.p=='b' && datum.k=='ttl'"}],"mark":{"type":"text","font":"Liberation Serif","fontSize":9.5,"fill":"#1a1a1a"},"encoding":{"text":{"field":"t"}}},
   {"data":{"name":"notes"},"transform":[{"filter":"datum.p=='b' && datum.k=='ctr'"}],"mark":{"type":"text","fontSize":5.5,"fontWeight":"bold","fill":"#1a1a1a"},"encoding":{"text":{"field":"t"}}},
   {"data":{"name":"notes"},"transform":[{"filter":"datum.p=='b' && datum.k=='lft'"}],"mark":{"type":"text","fontSize":5.5,"fontWeight":"bold","align":"left","fill":"#1a1a1a"},"encoding":{"text":{"field":"t"}}}
  ]},
 {"data":{"name":"bound"},"transform":[{"filter":"datum.p=='b'"}],"mark":{"type":"point","opacity":0},"encoding":{
   "x":{"field":"x","type":"quantitative","scale":{"domain":[0,750],"nice":false,"zero":false},"axis":{"values":[0,109,166,241,331,413,500,553,643,750],"labelExpr":"''+(indexof([0,109,166,241,331,413,500,553,643,750], datum.value)+1)","title":"Stations","titlePadding":0,"labelPadding":0,"tickSize":2}},
   "y":{"field":"d","type":"quantitative","scale":{"domain":[0,30],"reverse":true,"nice":false,"zero":false},"axis":{"orient":"right","values":[0,5,10,15,20,25,30],"labels":false,"title":null,"domain":false,"tickSize":3}}}}
]},
{"width":248,"height":133,"resolve":{"axis":{"y":"independent"}},"layer":[
 {"encoding":{
   "x":{"field":"x","type":"quantitative","scale":{"domain":[0,750],"nice":false,"zero":false},"axis":{"values":[0,109,166,241,331,413,500,553,643,750],"labelExpr":"''+(indexof([0,109,166,241,331,413,500,553,643,750], datum.value)+1)","title":"Stations","titlePadding":0,"labelPadding":0,"tickSize":2}},
   "y":{"field":"d","type":"quantitative","scale":{"domain":[1.4,30],"reverse":true,"nice":false,"zero":false},"axis":{"values":[5,10,15,20,25,30],"title":null,"labelFontSize":5,"labelPadding":0}}},
  "layer":[
   {"data":{"name":"lines"},"transform":[{"filter":"datum.p=='d'"}],"mark":{"type":"line","interpolate":"catmull-rom","stroke":"#2a2a2a","strokeWidth":0.8,"clip":true},"encoding":{"detail":{"field":"c"},"order":{"field":"i"}}},
   {"data":{"name":"bound"},"transform":[{"filter":"datum.p=='d'"}],"mark":{"type":"line","stroke":"#2a2a2a","strokeWidth":0.8,"clip":true},"encoding":{"order":{"field":"i"}}},
   {"data":{"name":"labs"},"transform":[{"filter":"datum.p=='d'"}],"mark":{"type":"text","fontSize":5.5,"fontWeight":"bold","fill":"white","stroke":"white","strokeWidth":3},"encoding":{"text":{"field":"t"},"angle":{"field":"a","type":"quantitative","scale":null}}},
   {"data":{"name":"labs"},"transform":[{"filter":"datum.p=='d'"}],"mark":{"type":"text","fontSize":5.5,"fontWeight":"bold","fill":"#1a1a1a"},"encoding":{"text":{"field":"t"},"angle":{"field":"a","type":"quantitative","scale":null}}},
   {"data":{"name":"boxes"},"transform":[{"filter":"datum.p=='d'"}],"mark":{"type":"rect","fill":"white","stroke":"#505050","strokeWidth":1},"encoding":{"x2":{"field":"x2"},"y2":{"field":"d2"}}},
   {"data":{"name":"notes"},"transform":[{"filter":"datum.p=='d' && datum.k=='pl'"}],"mark":{"type":"text","font":"Liberation Serif","fontSize":10,"fill":"#1a1a1a"},"encoding":{"text":{"field":"t"}}},
   {"data":{"name":"notes"},"transform":[{"filter":"datum.p=='d' && datum.k=='ttl'"}],"mark":{"type":"text","font":"Liberation Serif","fontSize":9.5,"fill":"#1a1a1a"},"encoding":{"text":{"field":"t"}}},
   {"data":{"name":"notes"},"transform":[{"filter":"datum.p=='d' && datum.k=='ctr'"}],"mark":{"type":"text","fontSize":5.5,"fontWeight":"bold","fill":"#1a1a1a"},"encoding":{"text":{"field":"t"}}},
   {"data":{"name":"notes"},"transform":[{"filter":"datum.p=='d' && datum.k=='lft'"}],"mark":{"type":"text","fontSize":5.5,"fontWeight":"bold","align":"left","fill":"#1a1a1a"},"encoding":{"text":{"field":"t"}}}
  ]},
 {"data":{"name":"bound"},"transform":[{"filter":"datum.p=='d'"}],"mark":{"type":"point","opacity":0},"encoding":{
   "x":{"field":"x","type":"quantitative","scale":{"domain":[0,750],"nice":false,"zero":false},"axis":{"values":[0,109,166,241,331,413,500,553,643,750],"labelExpr":"''+(indexof([0,109,166,241,331,413,500,553,643,750], datum.value)+1)","title":"Stations","titlePadding":0,"labelPadding":0,"tickSize":2}},
   "y":{"field":"d","type":"quantitative","scale":{"domain":[1.4,30],"reverse":true,"nice":false,"zero":false},"axis":{"orient":"right","values":[5,10,15,20,25,30],"labels":false,"title":null,"domain":false,"tickSize":3}}}}
]}
]
}
